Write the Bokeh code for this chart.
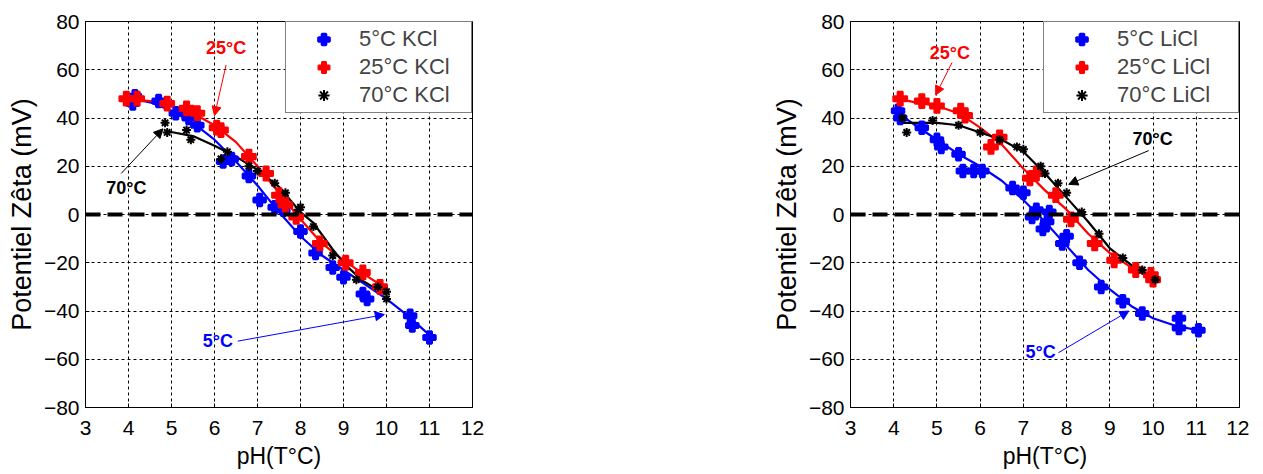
from bokeh.plotting import figure
from bokeh.layouts import row
from bokeh.models import (Range1d, FixedTicker, Span, Arrow, NormalHead, Label,
                          Legend, LegendItem)
from bokeh.embed import file_html
from bokeh.resources import INLINE

# ---------------- data ----------------
x_ticks = [3, 4, 5, 6, 7, 8, 9, 10, 11, 12]
y_ticks = [-80, -60, -40, -20, 0, 20, 40, 60, 80]
x_label = "pH(T°C)"
y_label = "Potentiel Zêta (mV)"

# KCl panel
kcl_5_x = [4.1, 4.15, 4.7, 5.1, 5.4, 5.6, 6.2, 6.4, 6.8, 7.05, 7.4, 7.6, 8.0, 8.35, 8.75, 9.0, 9.45, 9.55, 10.55, 10.6, 11.0]
kcl_5_y = [46, 49, 47, 42, 40, 37, 22, 23, 16, 6, 3, 2, -7, -16, -22, -26, -33, -35, -42, -46, -51]
kcl_25_x = [3.95, 4.2, 4.9, 5.35, 5.6, 6.05, 6.15, 6.8, 7.2, 7.5, 7.65, 7.9, 8.45, 9.05, 9.45, 9.85]
kcl_25_y = [48, 48, 46, 44, 42, 36, 35, 24, 17, 8, 4, -1, -12, -20, -24, -30]
kcl_70_x = [4.85, 4.9, 5.35, 5.45, 6.15, 6.3, 6.8, 7.0, 7.4, 7.65, 7.95, 8.0, 8.3, 8.75, 9.3, 9.8, 10.0, 10.0]
kcl_70_y = [38, 34, 35, 31, 23, 26, 20, 18, 13, 9, 2, 3, -5, -17, -27, -30, -32, -35]

kcl_5_fit_x = [4.1, 4.5, 5.0, 5.5, 6.0, 6.5, 7.0, 7.5, 8.0, 8.5, 9.0, 9.5, 10.0, 10.5, 11.0]
kcl_5_fit_y = [48, 46.5, 43, 38, 31, 22, 12, 1, -9, -17, -23, -29, -35, -42, -50]
kcl_25_fit_x = [3.95, 4.5, 5.0, 5.5, 6.0, 6.5, 7.0, 7.5, 8.0, 8.5, 9.0, 9.5, 9.85]
kcl_25_fit_y = [48, 47, 45, 42, 37, 30, 20, 9, -2, -12, -19, -25, -29]
kcl_70_fit_x = [4.9, 5.5, 6.0, 6.5, 7.0, 7.5, 8.0, 8.3, 8.75, 9.05, 9.45, 9.85, 10.0]
kcl_70_fit_y = [34.5, 32.5, 28.5, 24, 18.5, 11.5, 1, -3.5, -14.5, -21, -27.5, -31.8, -33]

# LiCl panel
licl_5_x = [4.1, 4.15, 4.65, 5.0, 5.1, 5.5, 5.6, 5.85, 6.05, 6.75, 7.0, 7.2, 7.3, 7.45, 7.55, 7.6, 7.9, 8.0, 8.3, 8.8, 9.3, 9.75, 10.6, 10.6, 11.05]
licl_5_y = [43, 40, 36, 31, 28, 25, 18, 18, 18, 11, 9, -1, 2, -6, -3, 1, -12, -9, -20, -30, -36, -41, -43, -47, -48]
licl_25_x = [4.15, 4.65, 5.0, 5.55, 5.65, 6.25, 6.45, 7.15, 7.3, 7.75, 8.1, 8.65, 9.1, 9.6, 9.95, 10.0]
licl_25_y = [48, 47, 45, 43, 41, 28, 32, 15, 17, 8, -2, -12, -19, -23, -25, -27]
licl_70_x = [4.2, 4.3, 4.9, 5.5, 6.0, 6.45, 6.85, 7.0, 7.4, 7.5, 7.8, 8.0, 8.35, 8.75, 9.3, 9.75, 10.05]
licl_70_y = [40, 34, 39, 37, 34, 31, 28, 27, 20, 17, 13, 9, 1, -8, -18, -23, -27]

licl_5_fit_x = [4.1, 4.5, 5.0, 5.5, 6.0, 6.5, 7.0, 7.5, 8.0, 8.5, 9.0, 9.5, 10.0, 10.5, 11.05]
licl_5_fit_y = [42, 37, 31, 25, 20, 14, 6, -3, -13, -23, -31, -38, -43, -46, -48]
licl_25_fit_x = [4.1, 4.5, 5.0, 5.5, 6.0, 6.5, 7.0, 7.5, 8.0, 8.5, 9.0, 9.5, 10.0]
licl_25_fit_y = [48, 46.5, 45, 42, 36, 29, 19, 10, 2, -8, -16, -22, -27]
licl_70_fit_x = [4.2, 4.5, 5.0, 5.5, 6.0, 6.5, 7.0, 7.5, 8.0, 8.5, 9.0, 9.5, 10.05]
licl_70_fit_y = [38, 38, 38, 37, 34, 31, 26, 17, 7, -3, -14, -21, -27]

# annotations: (text, text_x, text_y, arrow_x0, arrow_y0, arrow_x1, arrow_y1)
kcl_notes = [("25°C", 6.27, 69, 6.27, 62, 6.0, 41),
             ("70°C", 3.95, 11, 3.83, 17, 4.8, 35.5),
             ("5°C", 6.08, -52.5, 6.54, -52.5, 9.95, -41.5)]
licl_notes = [("25°C", 5.3, 67, 5.35, 63, 4.97, 49.5),
              ("70°C", 9.99, 31.5, 9.9, 26.5, 8.05, 12.5),
              ("5°C", 7.4, -57, 7.81, -57.3, 9.44, -40)]

BLUE, RED, BLACK = "#0000ff", "#ff0000", "#000000"
FONT = "Liberation Sans"


def make_panel(series, notes, labels, left_border, right_border, fw, lab_width):
    p = figure(frame_width=fw, frame_height=386,
               x_range=Range1d(3, 12), y_range=Range1d(-80, 80),
               output_backend="svg", toolbar_location=None,
               min_border_left=left_border, min_border_right=right_border,
               min_border_top=21, min_border_bottom=55)
    p.outline_line_color = "black"
    p.outline_line_width = 1
    p.outline_line_alpha = 1
    p.background_fill_color = "white"
    p.border_fill_color = "white"
    for ax, tk in ((p.xaxis[0], x_ticks), (p.yaxis[0], y_ticks)):
        ax.ticker = FixedTicker(ticks=tk)
        ax.major_label_text_font = FONT
        ax.major_label_text_font_size = "21px"
        ax.major_label_text_color = "black"
        ax.axis_label_text_font = FONT
        ax.axis_label_text_font_style = "normal"
        ax.axis_label_text_color = "black"
        ax.major_tick_in = 4
        ax.major_tick_out = 0
        ax.minor_tick_line_color = None
        ax.axis_line_color = "black"
    p.xaxis.axis_label = x_label
    p.yaxis.axis_label = y_label
    p.xaxis.axis_label_text_font_size = "23px"
    p.yaxis.axis_label_text_font_size = "27px"
    p.xaxis.major_label_standoff = 13
    p.yaxis.major_label_standoff = 6
    p.xaxis.axis_label_standoff = 5
    p.yaxis.axis_label_standoff = 4
    p.xgrid.ticker = FixedTicker(ticks=x_ticks)
    p.ygrid.ticker = FixedTicker(ticks=y_ticks)
    for g in (p.xgrid[0], p.ygrid[0]):
        g.grid_line_color = "black"
        g.grid_line_alpha = 1
        g.grid_line_dash = "3 3"
        g.grid_line_width = 1

    p.add_layout(Span(location=0, dimension="width", line_color="black",
                      line_width=4, line_dash="15 7"))

    (x5, y5, f5x, f5y), (x25, y25, f25x, f25y), (x70, y70, f70x, f70y) = series
    p.line(f5x, f5y, line_color=BLUE, line_width=2.2)
    p.line(f25x, f25y, line_color=RED, line_width=2.2)
    p.line(f70x, f70y, line_color=BLACK, line_width=2.2)
    r5a = p.scatter(x5, y5, marker="plus", size=12, line_color=BLUE, fill_color=BLUE, line_width=2.5)
    r5b = p.scatter(x5, y5, marker="diamond", size=8, line_color=BLUE, fill_color=BLUE)
    r25 = p.scatter(x25, y25, marker="plus", size=14, line_color=RED, fill_color=RED, line_width=1.8)
    r70 = p.scatter(x70, y70, marker="asterisk", size=9, line_color=BLACK, line_width=2)

    colors = {"25°C": RED, "70°C": BLACK, "5°C": BLUE}
    for txt, tx, ty, ax0, ay0, ax1, ay1 in notes:
        c = colors[txt]
        p.add_layout(Arrow(end=NormalHead(size=9, fill_color=c, line_color=c),
                           x_start=ax0, y_start=ay0, x_end=ax1, y_end=ay1,
                           line_color=c, line_width=1))
        p.add_layout(Label(x=tx, y=ty, text=txt, text_color=c, text_align="center",
                           text_baseline="middle", text_font=FONT,
                           text_font_size="18px", text_font_style="bold"))

    leg = Legend(items=[LegendItem(label=labels[0], renderers=[r5a, r5b]),
                        LegendItem(label=labels[1], renderers=[r25]),
                        LegendItem(label=labels[2], renderers=[r70])],
                 location="top_right", margin=0, padding=3, spacing=0,
                 glyph_width=69, glyph_height=28, label_height=28,
                 label_standoff=1, label_width=lab_width,
                 label_text_font=FONT, label_text_font_size="22px",
                 border_line_color="black", border_line_width=1,
                 background_fill_alpha=1)
    p.add_layout(leg)
    return p


p1 = make_panel([(kcl_5_x, kcl_5_y, kcl_5_fit_x, kcl_5_fit_y),
                 (kcl_25_x, kcl_25_y, kcl_25_fit_x, kcl_25_fit_y),
                 (kcl_70_x, kcl_70_y, kcl_70_fit_x, kcl_70_fit_y)],
                kcl_notes, ["5°C KCl", "25°C KCl", "70°C KCl"], 85, 296, 387, 109)
p2 = make_panel([(licl_5_x, licl_5_y, licl_5_fit_x, licl_5_fit_y),
                 (licl_25_x, licl_25_y, licl_25_fit_x, licl_25_fit_y),
                 (licl_70_x, licl_70_y, licl_70_fit_x, licl_70_fit_y)],
                licl_notes, ["5°C LiCl", "25°C LiCl", "70°C LiCl"], 78, 10, 389, 118)

layout = row(p1, p2)
open("out.html", "w").write(file_html(layout, INLINE))
